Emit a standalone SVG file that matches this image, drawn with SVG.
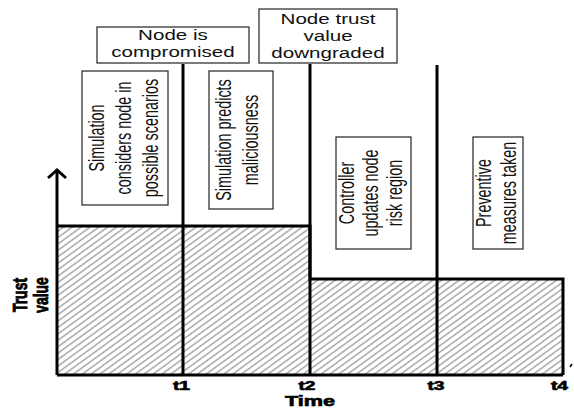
<svg xmlns="http://www.w3.org/2000/svg" width="574" height="408" viewBox="0 0 574 408">
<style>
.box{fill:#fff;stroke:#333;stroke-width:1.3}
.t{font-family:"Liberation Sans",Arial,sans-serif;font-size:14.5px;fill:#111;text-anchor:middle}
.v{font-family:"Liberation Sans",Arial,sans-serif;font-size:14.4px;fill:#111;text-anchor:middle}
.b{font-family:"Liberation Sans",Arial,sans-serif;font-size:14px;font-weight:bold;fill:#000;stroke:#000;stroke-width:0.6;text-anchor:middle}
.ln{stroke:#000;stroke-width:3;fill:none}
</style>
<defs>
<pattern id="hatch" patternUnits="userSpaceOnUse" width="10" height="5.2" patternTransform="rotate(-36)">
<line x1="0" y1="2.6" x2="10" y2="2.6" stroke="#7a7a7a" stroke-width="1"/>
</pattern>
</defs>
<rect width="574" height="408" fill="#fff"/>
<g id="regions">
<rect x="57" y="226" width="253" height="149" fill="url(#hatch)"/>
<rect x="310" y="279" width="253" height="96" fill="url(#hatch)"/>
</g>
<g id="connectors">
<path class="ln" d="M57,375 V171"/>
<path class="ln" d="M48,178 L57,170 L66,178"/>
<path class="ln" d="M57,375 H563"/>
<path class="ln" d="M57,226 H310 V279 H563 V375"/>
<path class="ln" d="M183,64 V375"/>
<path class="ln" d="M310,64 V375"/>
<path class="ln" d="M437,65 V375"/>
<path d="M570,367 L572,364" stroke="#000" stroke-width="1.5"/>
</g>
<g id="node-compromised">
<rect class="box" x="97" y="27" width="152" height="36"/>
<text class="t" transform="translate(173,40) scale(1.42,1)">Node is</text>
<text class="t" transform="translate(173,57) scale(1.42,1)">compromised</text>
</g>
<g id="node-downgraded">
<rect class="box" x="259" y="9" width="138" height="54"/>
<text class="t" transform="translate(328,24) scale(1.42,1)">Node trust</text>
<text class="t" transform="translate(328,41) scale(1.42,1)">value</text>
<text class="t" transform="translate(328,58) scale(1.42,1)">downgraded</text>
</g>
<g id="sim-considers">
<rect class="box" x="82" y="71" width="86" height="134"/>
<text class="v" transform="translate(104,138) scale(1.5,1) rotate(-90)">Simulation</text>
<text class="v" transform="translate(131,138) scale(1.5,1) rotate(-90)">considers node in</text>
<text class="v" transform="translate(158,138) scale(1.5,1) rotate(-90)">possible scenarios</text>
</g>
<g id="sim-predicts">
<rect class="box" x="209" y="71" width="64" height="138"/>
<text class="v" transform="translate(231,140) scale(1.5,1) rotate(-90)">Simulation predicts</text>
<text class="v" transform="translate(258,140) scale(1.5,1) rotate(-90)">maliciousness</text>
</g>
<g id="controller">
<rect class="box" x="336" y="137" width="75" height="112"/>
<text class="v" transform="translate(354,193) scale(1.5,1) rotate(-90)">Controller</text>
<text class="v" transform="translate(378,193) scale(1.5,1) rotate(-90)">updates node</text>
<text class="v" transform="translate(402,193) scale(1.5,1) rotate(-90)">risk region</text>
</g>
<g id="preventive">
<rect class="box" x="473" y="137" width="50" height="112"/>
<text class="v" transform="translate(491,193) scale(1.5,1) rotate(-90)">Preventive</text>
<text class="v" transform="translate(516,193) scale(1.5,1) rotate(-90)">measures taken</text>
</g>
<g id="labels">
<text class="b" transform="translate(27,295) scale(1.4,1) rotate(-90)">Trust</text>
<text class="b" transform="translate(48,295) scale(1.4,1) rotate(-90)">value</text>
<text class="b" style="font-size:12px" transform="translate(181.5,390) scale(1.6,1)">t1</text>
<text class="b" style="font-size:12px" transform="translate(307,390) scale(1.6,1)">t2</text>
<text class="b" style="font-size:12px" transform="translate(436,390) scale(1.6,1)">t3</text>
<text class="b" style="font-size:12px" transform="translate(559.5,390) scale(1.6,1)">t4</text>
<text class="b" transform="translate(310,406) scale(1.55,1)">Time</text>
</g>
</svg>
